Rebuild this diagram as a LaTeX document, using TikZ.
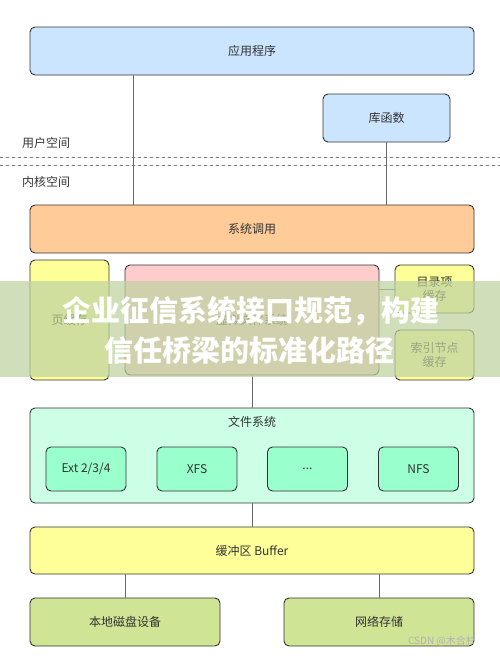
\documentclass[tikz,border=0pt]{standalone}
\usepackage{fontspec}
\setmainfont{Noto Sans CJK SC}
\definecolor{appblue}{RGB}{204,229,255}
\definecolor{calorange}{RGB}{255,204,153}
\definecolor{cacheyellow}{RGB}{255,255,153}
\definecolor{vfspink}{RGB}{255,204,204}
\definecolor{fsmint}{RGB}{204,255,230}
\definecolor{fsgreen}{RGB}{153,255,204}
\definecolor{devolive}{RGB}{208,228,150}
\definecolor{bandgreen}{RGB}{190,210,160}
\definecolor{inktext}{RGB}{51,51,51}
\begin{document}
\begin{tikzpicture}[x=1pt,y=-1pt,line join=round,line cap=round,font=\fontsize{12}{14}\selectfont,
    box/.style={draw=black!80,line width=0.9pt,rounded corners=5pt,inner sep=0pt,text=inktext,align=center},
    fsbox/.style={box,fill=fsgreen,minimum width=80pt,minimum height=44pt},
    link/.style={draw=black!60,line width=0.7pt}]
	\useasboundingbox (0,0) rectangle (500,659);
	% user space
	\node[box,fill=appblue,minimum width=444pt,minimum height=48pt] (app) at (252,51) {应用程序};
	\node[box,fill=appblue,minimum width=127pt,minimum height=48pt] (lib) at (386.5,118) {库函数};
	\draw[dashed,black!50,line width=0.6pt] (0,157) -- (500,157) (0,165) -- (500,165);
	\node[text=inktext] (userspace) at (46,143) {用户空间};
	\node[text=inktext] (kernelspace) at (46,182) {内核空间};
	% kernel
	\node[box,fill=calorange,minimum width=444pt,minimum height=48pt] (syscall) at (252,229) {系统调用};
	\node[box,fill=cacheyellow,minimum width=79pt,minimum height=120pt] (pagecache) at (69.5,320) {页缓存};
	\node[box,fill=vfspink,minimum width=254pt,minimum height=110pt] (vfs) at (252,320) {虚拟文件系统};
	\node[box,fill=cacheyellow,minimum width=79pt,minimum height=48pt] (dentry) at (434.5,289) {目录项\\缓存};
	\node[box,fill=cacheyellow,minimum width=79pt,minimum height=50pt] (inode) at (434.5,355) {索引节点\\缓存};
	\node[box,fill=fsmint,minimum width=444pt,minimum height=95pt] (fs) at (252,455.5) {};
	\node[text=inktext] (fstitle) at (252,422) {文件系统};
	\node[fsbox] (ext) at (86,469) {Ext 2/3/4};
	\node[fsbox] (xfs) at (197,469) {XFS};
	\node[fsbox] (dots) at (307.5,469) {...};
	\node[fsbox] (nfs) at (418.5,469) {NFS};
	\node[box,fill=cacheyellow,minimum width=444pt,minimum height=47pt] (buffer) at (252,550.5) {缓冲区 Buffer};
	\node[box,fill=devolive,minimum width=190pt,minimum height=48pt] (disk) at (125,622) {本地磁盘设备};
	\node[box,fill=devolive,minimum width=190pt,minimum height=48pt] (net) at (379,622) {网络存储};
	% links
	\draw[link] ([xshift=-119pt]app.south) -- ([xshift=-119pt]app.south |- syscall.north);
	\draw[link] (lib.south) -- (lib.south |- syscall.north);
	\draw[link] (vfs.east |- dentry.west) -- (dentry.west);
	\draw[link] (vfs.south) -- (fs.north);
	\draw[link] (fs.south) -- (buffer.north);
	\draw[link] (disk.north |- buffer.south) -- (disk.north);
	\draw[link] (net.north |- buffer.south) -- (net.north);
	% banner
	\fill[bandgreen,opacity=0.72] (0,281) rectangle (500,377);
	\node[text=white,font=\fontsize{29}{32}\selectfont\bfseries] (title1) at (251,311) {企业征信系统接口规范，构建};
	\node[text=white,font=\fontsize{29}{32}\selectfont\bfseries] (title2) at (249,350) {信任桥梁的标准化路径};
	\node[text=black!30,font=\fontsize{10}{12}\selectfont] (mark) at (442,641) {CSDN @木合杉};
\end{tikzpicture}
\end{document}
